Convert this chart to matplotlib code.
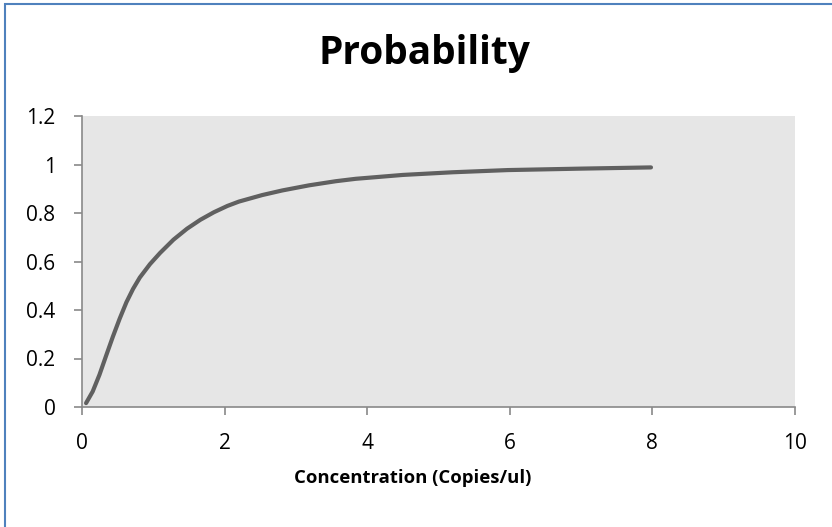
import matplotlib.pyplot as plt
from matplotlib.patches import Rectangle

# values
conc = [0.057, 0.15, 0.245, 0.34, 0.433, 0.528, 0.623, 0.716, 0.811, 0.953,
        1.094, 1.283, 1.472, 1.66, 1.849, 2.038, 2.2, 2.528, 2.809, 3.183,
        3.558, 3.839, 4.5, 5.2, 5.97, 7.0, 7.98]
prob = [0.016, 0.064, 0.133, 0.213, 0.290, 0.364, 0.432, 0.487, 0.534, 0.589,
        0.635, 0.690, 0.735, 0.772, 0.803, 0.829, 0.847, 0.874, 0.893, 0.914,
        0.931, 0.941, 0.957, 0.968, 0.977, 0.983, 0.988]

x_ticks = [0, 2, 4, 6, 8, 10]
y_ticks = [0, 0.2, 0.4, 0.6, 0.8, 1, 1.2]
y_labels = ['0', '0.2', '0.4', '0.6', '0.8', '1', '1.2']

plt.rcParams['font.family'] = ['Open Sans', 'DejaVu Sans']

fig = plt.figure(figsize=(8.32, 5.27), dpi=100)
ax = fig.add_axes([82/832, 1-407/527, (795-82)/832, (407-116)/527])

ax.plot(conc, prob, color='#606060', lw=3, solid_capstyle='round',
        solid_joinstyle='round')

ax.set_xlim(0, 10)
ax.set_ylim(0, 1.2)
ax.set_xticks(x_ticks)
ax.set_yticks(y_ticks)
ax.set_yticklabels(y_labels)
ax.set_facecolor('#e6e6e6')

for s in ['top', 'right']:
    ax.spines[s].set_visible(False)
for s in ['left', 'bottom']:
    ax.spines[s].set_color('#898989')
    ax.spines[s].set_linewidth(1.2)
ax.tick_params(axis='both', direction='out', length=6, width=1.2,
               color='#898989', labelsize=15, labelcolor='black')
ax.tick_params(axis='y', pad=13)
ax.tick_params(axis='x', pad=13)

fig.text(424/832, 1-64/527, 'Probability', ha='center', va='baseline',
         fontsize=28, fontweight='bold')
fig.text(413/832, 1-483/527, 'Concentration (Copies/ul)', ha='center',
         va='baseline', fontsize=13.3, fontweight='bold')

# chart border (only left/top edges visible in the crop)
fig.patches.append(Rectangle((5/832, -0.05), 1.1, 1-3.5/527+0.05,
                             transform=fig.transFigure, fill=False,
                             edgecolor='#4f81bd', lw=1.5))

fig.savefig('out.png', dpi=100)
